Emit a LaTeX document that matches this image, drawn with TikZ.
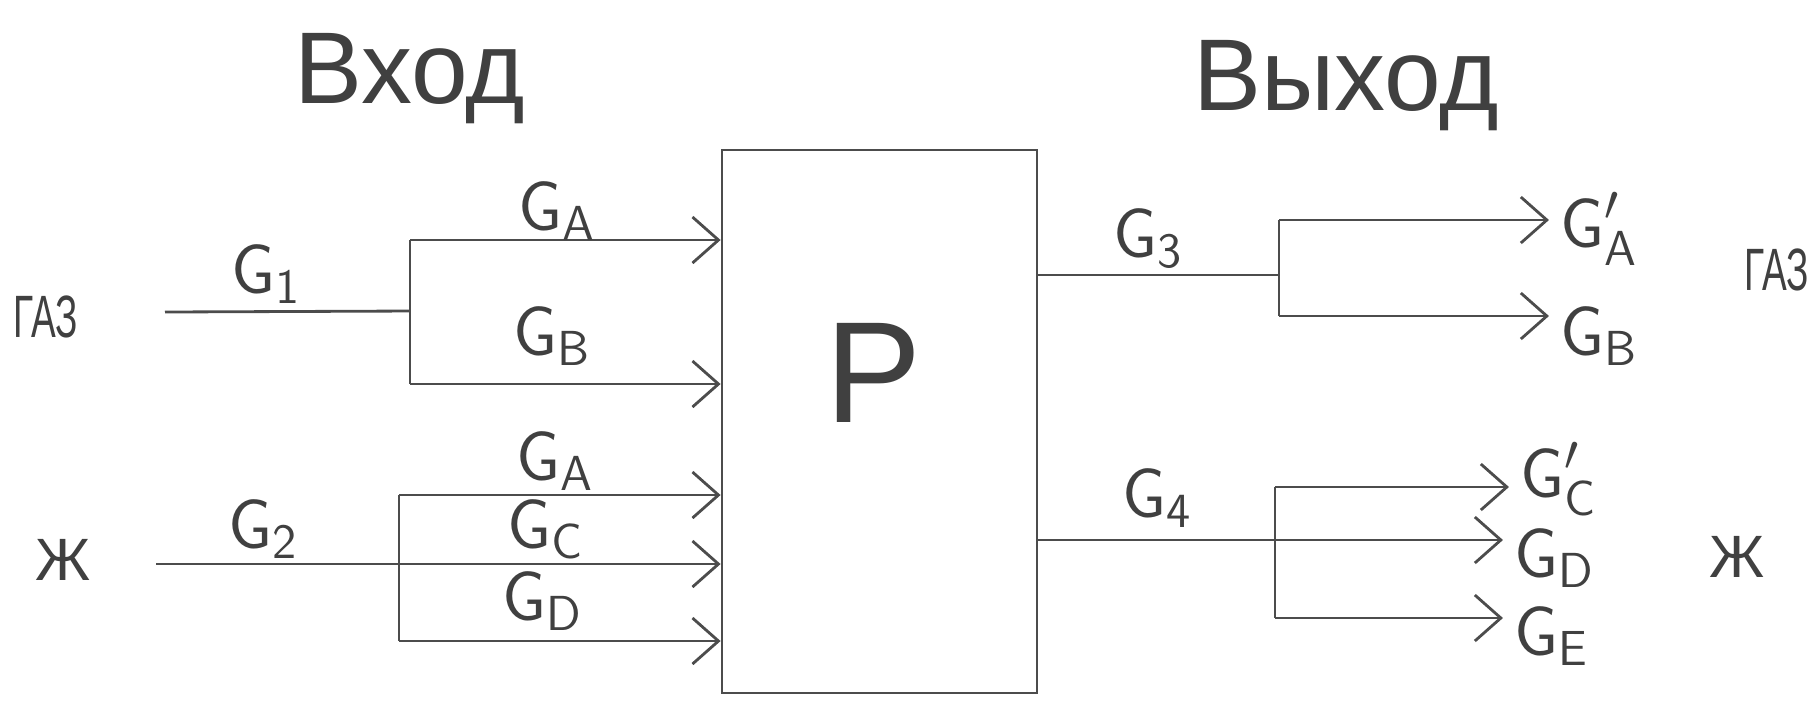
\documentclass[tikz,border=0pt]{standalone}
\usepackage{fontspec}
\setmainfont{Liberation Sans}
\usetikzlibrary{positioning, arrows.meta}

\newcommand{\gf}[1]{$\mathsf{G}_{\mathsf{#1}}$}
\newcommand{\gfp}[1]{$\mathsf{G}^{\prime}_{\mathsf{#1}}$}

\tikzset{
    pen/.style={draw=black!70, line width=0.8pt},
    arr/.style={pen, -{Straight Barb[length=2.6mm, width=4.6mm]}},
    flowlab/.style={font=\fontsize{20}{24}\selectfont, text=black!75, inner sep=1pt, anchor=base},
    side/.style={font=\fontsize{17}{20}\selectfont, text=black!75, anchor=base},
    head/.style={font=\fontsize{29}{34}\selectfont, text=black!75, anchor=base},
}

\begin{document}
\begin{tikzpicture}
    \useasboundingbox (0,0) rectangle (18.12,-7.00);

    \node[pen, minimum width=3.15cm, minimum height=5.43cm] (box) at (8.795,-4.215) {};
    \node[font=\fontsize{41}{46}\selectfont, text=black!75, anchor=base] (plab) at (8.74,-4.22) {P};

    \node[head] (vhod) at (4.10,-1.03) {Вход};
    \node[head] (vyhod) at (13.46,-1.10) {Выход};

    % inputs
    \node[side] (gasin) at (0.46,-3.37) {\scalebox{0.62}[1]{ГАЗ}};
    \node[side] (liqin) at (0.63,-5.80) {Ж};
    \coordinate (s1) at (1.65,-3.12);
    \coordinate (j1) at (4.10,-3.11);
    \coordinate (j1a) at (4.10,-2.40);
    \coordinate (j1b) at (4.10,-3.84);
    \coordinate (s2) at (1.56,-5.64);
    \coordinate (j2) at (3.99,-5.64);
    \coordinate (j2a) at (3.99,-4.95);
    \coordinate (j2b) at (3.99,-6.41);
    \draw[pen] (s1) -- (j1);
    \draw[pen] (j1a) -- (j1b);
    \draw[pen] (s2) -- (j2);
    \draw[pen] (j2a) -- (j2b);
    \foreach \j in {j1a, j1b, j2a, j2, j2b}
        \draw[arr] (\j) -- (\j -| box.west);

    \foreach \n/\x/\y/\t in {g1/2.66/-2.93/\gf{1}, ga1/5.57/-2.30/\gf{A}, gb1/5.52/-3.55/\gf{B},
                             g2/2.63/-5.48/\gf{2}, ga2/5.55/-4.80/\gf{A}, gc2/5.46/-5.48/\gf{C},
                             gd2/5.43/-6.20/\gf{D}, g3/11.48/-2.57/\gf{3}, g4/11.57/-5.17/\gf{4}}
        \node[flowlab] (\n) at (\x,\y) {\t};

    % outputs
    \coordinate (j3) at (12.79,-2.75);
    \coordinate (j3a) at (12.79,-2.20);
    \coordinate (j3b) at (12.79,-3.16);
    \coordinate (j4) at (12.75,-5.40);
    \coordinate (j4a) at (12.75,-4.87);
    \coordinate (j4b) at (12.75,-6.18);
    \draw[pen] (j3 -| box.east) -- (j3);
    \draw[pen] (j3a) -- (j3b);
    \draw[pen] (j4 -| box.east) -- (j4);
    \draw[pen] (j4a) -- (j4b);

    \node[flowlab, anchor=base west] (ga3) at (15.56,-2.47) {\gfp{A}};
    \node[flowlab, anchor=base west] (gb3) at (15.56,-3.55) {\gf{B}};
    \node[flowlab, anchor=base west] (gc4) at (15.16,-4.97) {\gfp{C}};
    \node[flowlab, anchor=base west] (gd4) at (15.10,-5.77) {\gf{D}};
    \node[flowlab, anchor=base west] (ge4) at (15.10,-6.55) {\gf{E}};
    \foreach \j/\l in {j3a/ga3, j3b/gb3, j4a/gc4, j4/gd4, j4b/ge4}
        \draw[arr, shorten >=2pt] (\j) -- (\j -| \l.west);

    \node[side] (gasout) at (17.77,-2.90) {\scalebox{0.62}[1]{ГАЗ}};
    \node[side] (liqout) at (17.37,-5.77) {Ж};
\end{tikzpicture}
\end{document}
